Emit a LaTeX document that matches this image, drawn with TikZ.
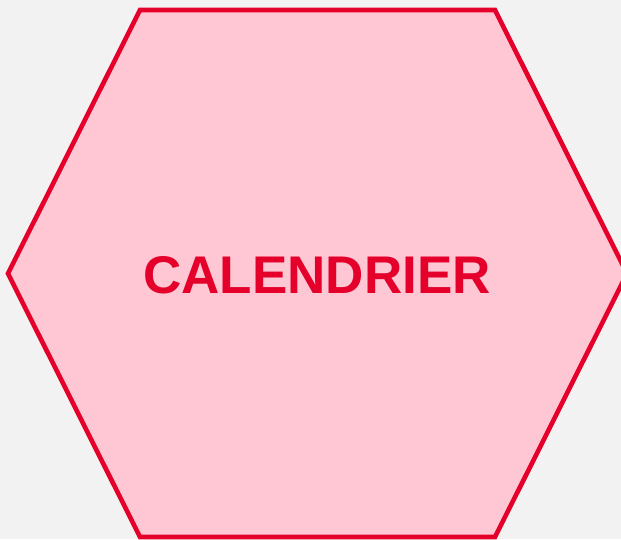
\documentclass[tikz,border=0pt]{standalone}
\usepackage{fontspec}
\setmainfont{Liberation Sans}
\definecolor{bgc}{HTML}{F2F2F2}
\definecolor{hexfill}{HTML}{FFC6D3}
\definecolor{hexline}{HTML}{E4002B}
\begin{document}
\begin{tikzpicture}[x=1pt,y=-1pt,
  hexstyle/.style={draw=hexline,fill=hexfill,line width=4.6pt,line join=miter},
  labelstyle/.style={text=hexline,font=\fontsize{53}{60}\selectfont\bfseries,inner sep=0pt}]
\fill[bgc] (0,0) rectangle (621,539);
\useasboundingbox (0,0) rectangle (621,539);
\coordinate (tl) at (140,10);
\coordinate (tr) at (495,10);
\coordinate (r) at (627,273.5);
\coordinate (br) at (495,537);
\coordinate (bl) at (140,537);
\coordinate (l) at (8,273.5);
\draw[hexstyle] (tl) -- (tr) -- (r) -- (br) -- (bl) -- (l) -- cycle;
\node[labelstyle] (title) at (317,275) {CALENDRIER};
\end{tikzpicture}
\end{document}
